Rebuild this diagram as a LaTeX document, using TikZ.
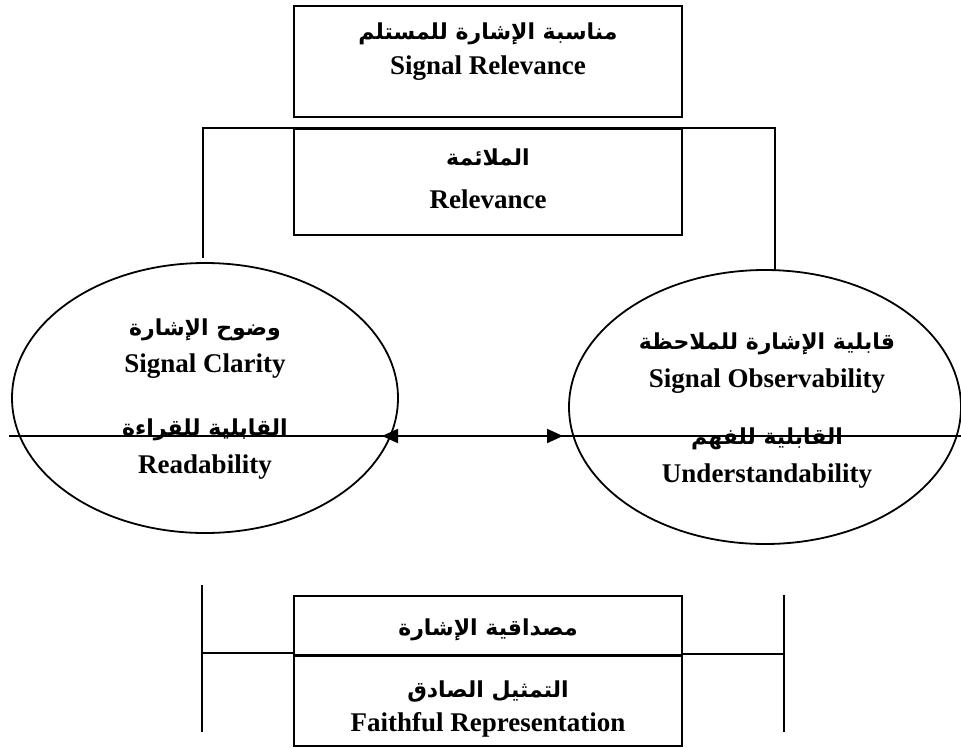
\documentclass[tikz,border=0pt]{standalone}
\usepackage{fontspec}
\setmainfont{Liberation Serif}
\newfontfamily\arabicfont[Script=Arabic]{DejaVu Sans}
\TeXXeTstate=1
\usetikzlibrary{shapes.geometric,arrows.meta}
\tikzset{
  frame/.style={draw, line width=2pt, rectangle, inner sep=0pt},
  oval/.style={draw, line width=1.8pt, ellipse, inner sep=0pt},
  wire/.style={line width=2pt},
  entxt/.style={font=\fontsize{27}{30}\selectfont\bfseries, inner sep=0pt, anchor=center},
  artxt/.style={font=\arabicfont\fontsize{22}{26}\selectfont\bfseries, inner sep=0pt, anchor=center},
  tip/.style={-{Triangle[length=16pt,width=14pt]}}
}
\begin{document}
\begin{tikzpicture}[x=1pt,y=-1pt]
\useasboundingbox (0,0) rectangle (961,747);
% top box
\node[frame, minimum width=388pt, minimum height=111pt] (sigrel) at (488,61.5) {};
\node[artxt] (sigrelA) at (488,34) {\beginR مناسبة الإشارة للمستلم\endR};
\node[entxt] (sigrelE) at (488,68) {Signal Relevance};
% middle box
\node[frame, minimum width=388pt, minimum height=106pt] (rel) at (488,182) {};
\node[artxt] (relA) at (488,157) {\beginR الملائمة\endR};
\node[entxt] (relE) at (488,199) {Relevance};
% bracket
\coordinate (bl) at (203,258);
\coordinate (br) at (775,270);
\draw[wire] (bl) |- (rel.north) -| (br);
% ellipses
\node[oval, minimum width=386pt, minimum height=270pt] (clar) at (205,398) {};
\node[artxt] (clarA) at (205,330) {\beginR وضوح الإشارة\endR};
\node[entxt] (clarE) at (205,366) {Signal Clarity};
\node[artxt] (readA) at (205,430) {\beginR القابلية للقراءة\endR};
\node[entxt] (readE) at (205,467) {Readability};
\node[oval, minimum width=392pt, minimum height=274pt] (obs) at (765,407) {};
\node[artxt] (obsA) at (767,344) {\beginR قابلية الإشارة للملاحظة\endR};
\node[entxt] (obsE) at (767,381) {Signal Observability};
\node[artxt] (undA) at (767,439) {\beginR القابلية للفهم\endR};
\node[entxt] (undE) at (767,476) {Understandability};
% horizontal line with arrows
\coordinate (lineL) at (9,436);
\coordinate (tipL) at (382,436);
\coordinate (tipR) at (563,436);
\coordinate (lineR) at (961,436);
\draw[wire] (lineL) -- (tipL);
\draw[wire, tip] (tipR) -- (tipL);
\draw[wire, tip] (tipL) -- (tipR);
\draw[wire] (tipR) -- (lineR);
% bottom boxes
\node[frame, minimum width=388pt, minimum height=59pt] (relia) at (488,625.5) {};
\node[artxt] (reliaA) at (488,630) {\beginR مصداقية الإشارة\endR};
\node[frame, fill=white, minimum width=388pt, minimum height=90pt] (faith) at (488,701) {};
\node[artxt] (faithA) at (488,691) {\beginR التمثيل الصادق\endR};
\node[entxt] (faithE) at (488,725) {Faithful Representation};
% side brackets
\coordinate (lt) at (202,585);
\coordinate (lb) at (202,732);
\coordinate (lm) at (202,653);
\coordinate (rt) at (784,595);
\coordinate (rb) at (784,732);
\coordinate (rm) at (784,654);
\draw[wire] (lt) -- (lb);
\draw[wire] (lm) -- (relia.south west |- lm);
\draw[wire] (rt) -- (rb);
\draw[wire] (rm) -- (relia.south east |- rm);
\end{tikzpicture}
\end{document}
